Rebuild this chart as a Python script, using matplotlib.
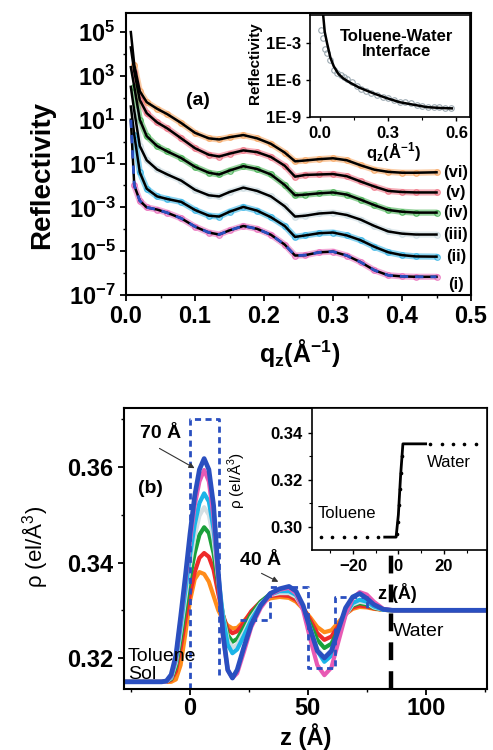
import matplotlib
matplotlib.use("Agg")
import matplotlib.pyplot as plt
import matplotlib.ticker as mticker
import numpy as np

plt.rcParams['font.family'] = ['Liberation Sans', 'DejaVu Sans']
plt.rcParams['mathtext.fontset'] = 'custom'
plt.rcParams['mathtext.rm'] = 'Liberation Sans'
plt.rcParams['mathtext.bf'] = 'Liberation Sans:bold'
plt.rcParams['axes.linewidth'] = 1.5

# ---------- panel (a): reflectivity, log10 values ----------
q = [0.007, 0.012, 0.02, 0.03, 0.045, 0.06, 0.08, 0.10, 0.12, 0.135, 0.15, 0.17, 0.19,
     0.21, 0.23, 0.245, 0.26, 0.28, 0.30, 0.32, 0.34, 0.36, 0.38, 0.40, 0.42, 0.45]
logR_vi = [5.0, 3.5, 2.3, 1.8, 1.5, 1.25, 0.85, 0.40, 0.15, 0.10, 0.20, 0.30, 0.15,
           -0.1, -0.5, -0.9, -0.86, -0.80, -0.76, -0.85, -1.08, -1.28, -1.38, -1.42, -1.42, -1.40]
logR_v = [4.3, 3.2, 1.9, 1.3, 0.88, 0.6, 0.15, -0.3, -0.6, -0.68, -0.55, -0.4, -0.48,
          -0.7, -1.1, -1.6, -1.52, -1.5, -1.48, -1.58, -1.82, -2.05, -2.25, -2.3, -2.32, -2.32]
logR_iv = [3.4, 2.5, 1.0, 0.25, -0.2, -0.45, -0.75, -1.15, -1.42, -1.5, -1.32, -1.12, -1.25,
           -1.5, -1.98, -2.45, -2.42, -2.36, -2.32, -2.42, -2.65, -2.9, -3.12, -3.2, -3.24, -3.24]
logR_iii = [2.5, 1.4, -0.2, -0.85, -1.27, -1.5, -1.78, -2.2, -2.45, -2.5, -2.3, -2.1, -2.25,
            -2.5, -2.95, -3.42, -3.38, -3.28, -3.24, -3.35, -3.56, -3.85, -4.1, -4.2, -4.24, -4.24]
logR_ii = [1.6, 0.3, -1.4, -2.15, -2.5, -2.62, -2.75, -3.12, -3.38, -3.42, -3.2, -2.98, -3.15,
           -3.45, -3.85, -4.35, -4.28, -4.18, -4.15, -4.28, -4.5, -4.8, -5.05, -5.18, -5.24, -5.25]
logR_i = [1.0, -2.0, -2.7, -3.0, -3.1, -3.25, -3.5, -3.88, -4.15, -4.24, -4.05, -3.85, -3.98,
          -4.25, -4.7, -5.2, -5.18, -5.05, -5.02, -5.2, -5.5, -5.87, -6.1, -6.15, -6.17, -6.17]
curve_labels = ['(vi)', '(v)', '(iv)', '(iii)', '(ii)', '(i)']
label_logR = [-1.41, -2.32, -3.24, -4.24, -5.25, -6.53]
data_colors = ['#f7a35c', '#ee6a7c', '#3cae4a', '#c9d9df', '#2ab0e4', '#e866b8']

# inset (a): bare toluene-water interface
iq_data = [0.005, 0.012, 0.02, 0.03, 0.045, 0.06, 0.075, 0.09, 0.105, 0.12, 0.14, 0.16, 0.18,
           0.2, 0.225, 0.25, 0.275, 0.3, 0.325, 0.35, 0.375, 0.4, 0.425, 0.45, 0.475, 0.5,
           0.525, 0.55, 0.575]
ilogR_data = [-1.95, -2.6, -3.5, -3.8, -4.4, -5.2, -5.4, -5.6, -5.75, -5.95, -6.2, -6.5, -6.75,
              -6.9, -7.05, -7.2, -7.35, -7.5, -7.6, -7.75, -7.82, -7.9, -8.0, -8.1, -8.15, -8.2,
              -8.22, -8.25, -8.3]
iq_fit = [0.013, 0.02, 0.03, 0.045, 0.06, 0.08, 0.10, 0.13, 0.17, 0.23, 0.29, 0.35, 0.41, 0.47, 0.53, 0.58]
ilogR_fit = [-0.73, -2.1, -3.0, -4.2, -4.9, -5.5, -5.85, -6.2, -6.6, -7.05, -7.45, -7.8, -8.0, -8.2, -8.27, -8.3]

# ---------- panel (b): electron density profiles ----------
z = [-28, -12, -10, -8, -6, -4, -2, 0, 2, 4, 6, 8, 10, 12, 14, 16, 18, 20, 23, 26, 30, 34, 38,
     42, 45, 48, 51, 54, 57, 60, 63, 66, 69, 72, 75, 78, 82, 86, 126]
rho_orange = [0.315, 0.315, 0.3150, 0.3150, 0.3155, 0.3185, 0.3250, 0.3320, 0.3365, 0.3380, 0.3376,
              0.3360, 0.3330, 0.3300, 0.3280, 0.3268, 0.3262, 0.3263, 0.3278, 0.3296, 0.3315, 0.3325,
              0.3328, 0.3326, 0.3318, 0.3303, 0.3285, 0.3265, 0.3254, 0.3258, 0.3275, 0.3292, 0.3303,
              0.3307, 0.3306, 0.3303, 0.3301, 0.3300, 0.3300]
rho_red = [0.315, 0.315, 0.3150, 0.3154, 0.3172, 0.3220, 0.3280, 0.3335, 0.3380, 0.3410, 0.3420,
           0.3412, 0.3385, 0.3335, 0.3290, 0.3260, 0.3252, 0.3256, 0.3275, 0.3298, 0.3318, 0.3330,
           0.3332, 0.3330, 0.3322, 0.3305, 0.3280, 0.3252, 0.3238, 0.3245, 0.3268, 0.3292, 0.3306,
           0.3310, 0.3308, 0.3304, 0.3301, 0.3300, 0.3300]
rho_green = [0.315, 0.315, 0.3151, 0.3156, 0.3182, 0.3240, 0.3305, 0.3368, 0.3420, 0.3458, 0.3474,
             0.3462, 0.3420, 0.3352, 0.3290, 0.3248, 0.3234, 0.3240, 0.3265, 0.3292, 0.3318, 0.3334,
             0.3338, 0.3336, 0.3328, 0.3305, 0.3272, 0.3238, 0.3221, 0.3230, 0.3260, 0.3292, 0.3310,
             0.3315, 0.3312, 0.3305, 0.3301, 0.3300, 0.3300]
rho_gray = [0.315, 0.315, 0.3151, 0.3158, 0.3190, 0.3255, 0.3325, 0.3395, 0.3455, 0.3498, 0.3516,
            0.3500, 0.3448, 0.3365, 0.3288, 0.3238, 0.3222, 0.3228, 0.3255, 0.3285, 0.3314, 0.3332,
            0.3336, 0.3336, 0.3328, 0.3303, 0.3262, 0.3220, 0.3200, 0.3212, 0.3250, 0.3290, 0.3312,
            0.3318, 0.3315, 0.3306, 0.3301, 0.3300, 0.3300]
rho_cyan = [0.315, 0.315, 0.3151, 0.3160, 0.3195, 0.3265, 0.3340, 0.3415, 0.3480, 0.3525, 0.3545,
            0.3528, 0.3470, 0.3375, 0.3285, 0.3228, 0.3210, 0.3218, 0.3248, 0.3280, 0.3312, 0.3333,
            0.3340, 0.3340, 0.3332, 0.3305, 0.3262, 0.3215, 0.3192, 0.3205, 0.3248, 0.3292, 0.3315,
            0.3322, 0.3318, 0.3308, 0.3301, 0.3300, 0.3300]
rho_pink = [0.315, 0.315, 0.3151, 0.3162, 0.3200, 0.3278, 0.3360, 0.3445, 0.3520, 0.3570, 0.3594,
            0.3570, 0.3495, 0.3365, 0.3245, 0.3175, 0.3158, 0.3168, 0.3215, 0.3265, 0.3305, 0.3332,
            0.3343, 0.3347, 0.3335, 0.3300, 0.3240, 0.3185, 0.3164, 0.3180, 0.3235, 0.3290, 0.3325,
            0.3338, 0.3333, 0.3318, 0.3303, 0.3300, 0.3300]
rho_blue = [0.315, 0.315, 0.3152, 0.3165, 0.3205, 0.3285, 0.3370, 0.3460, 0.3540, 0.3595, 0.3618,
            0.3595, 0.3520, 0.3380, 0.3250, 0.3175, 0.3158, 0.3175, 0.3225, 0.3270, 0.3310, 0.3335,
            0.3345, 0.3350, 0.3340, 0.3310, 0.3260, 0.3215, 0.3200, 0.3215, 0.3260, 0.3305, 0.3328,
            0.3335, 0.3325, 0.3312, 0.3302, 0.3300, 0.3300]
rho_sets = [rho_orange, rho_red, rho_green, rho_gray, rho_cyan, rho_pink, rho_blue]
rho_colors = ['#ff8c1a', '#ee2a2a', '#1aa03a', '#d3dfe3', '#1ab4e8', '#e85ab4', '#2a4fc0']

# dashed guide boxes (z, rho)
box_a = [(0, 0.3135), (0, 0.370), (12.5, 0.370), (12.5, 0.316)]
box_b = [(21, 0.328), (34, 0.328), (34, 0.3349), (50, 0.3349), (50, 0.318), (61.5, 0.318),
         (61.5, 0.3328), (75, 0.3328), (75, 0.330)]
z_interface = 85.4

# inset (b): bare toluene-water density step
iz_line = [-6, -1, 0, 1, 2, 12]
irho_line = [0.2955, 0.2955, 0.305, 0.322, 0.3353, 0.3353]
iz_dots = [-34, -29, -24, -19, -14, -9, -0.6, -0.2, 0.2, 0.6, 1.0, 1.4, 14, 19, 24, 29, 34]
irho_dots = [0.2955] * 6 + [0.297, 0.302, 0.309, 0.316, 0.323, 0.330] + [0.3353] * 5

fig = plt.figure(figsize=(4.93, 7.5), dpi=100)

# ================= panel (a) =================
ax1 = fig.add_axes([126 / 493, 1 - 295 / 750, 345 / 493, 282 / 750])
logsets = [logR_vi, logR_v, logR_iv, logR_iii, logR_ii, logR_i]
for vals, c in zip(logsets, data_colors):
    r = 10.0 ** np.array(vals)
    ax1.plot(q[1:], r[1:], '-', color=c, lw=4.5, alpha=0.55, solid_capstyle='round')
    ax1.plot(q[1:], r[1:], 'o', mfc='none', mec=c, ms=4, mew=0.9, alpha=0.8)
for vals in logsets:
    ax1.plot(q, 10.0 ** np.array(vals), '-', color='black', lw=1.8)
ax1.plot(q, 10.0 ** np.array(logR_i), '--', color='#2a4fc0', lw=2, dashes=(3, 2.5))
for lab, ly in zip(curve_labels, label_logR):
    ax1.text(0.478, 10.0 ** ly, lab, fontsize=12, fontweight='bold', ha='center', va='center')
ax1.text(0.209, 0.691, '(a)', transform=ax1.transAxes, fontsize=14, fontweight='bold',
         ha='center', va='center')

ax1.set_yscale('log')
ax1.set_xlim(0, 0.5)
ax1.set_ylim(1e-7, 10 ** 5.87)
ax1.set_yticks([10.0 ** e for e in range(-7, 6, 2)])
ax1.yaxis.set_major_formatter(mticker.FuncFormatter(lambda v, p: r'$\mathbf{10^{%d}}$' % round(np.log10(v))))
ax1.yaxis.set_minor_locator(mticker.FixedLocator([10.0 ** e for e in range(-7, 6)]))
ax1.yaxis.set_minor_formatter(mticker.NullFormatter())
ax1.set_xticks([0.0, 0.1, 0.2, 0.3, 0.4, 0.5])
ax1.xaxis.set_major_formatter(mticker.FormatStrFormatter('%.1f'))
ax1.xaxis.set_minor_locator(mticker.MultipleLocator(0.05))
ax1.tick_params(which='major', length=4, width=1.3, labelsize=17)
ax1.tick_params(which='minor', length=2.5, width=1.0)
for t in ax1.get_xticklabels() + ax1.get_yticklabels():
    t.set_fontweight('bold')
ax1.set_ylabel('Reflectivity', fontsize=20, fontweight='bold')
ax1.yaxis.set_label_coords(-0.206, 0.426)
ax1.set_xlabel(r'q$_\mathbf{z}$(Å$^{\mathbf{-1}}$)', fontsize=18, fontweight='bold')
ax1.xaxis.set_label_coords(0.504, -0.149)

# inset (a)
ins1 = fig.add_axes([310 / 493, 1 - 117 / 750, 160 / 493, 102 / 750])
ins1.plot(iq_data, 10.0 ** np.array(ilogR_data), 'o', mfc='none', mec='#9aa8b0', ms=4, mew=0.8)
ins1.plot(iq_fit, 10.0 ** np.array(ilogR_fit), '-', color='black', lw=1.8)
ins1.set_yscale('log')
ins1.set_xlim(-0.045, 0.66)
ins1.set_ylim(1e-9, 10 ** -0.73)
ins1.set_yticks([1e-9, 1e-6, 1e-3])
ins1.set_yticklabels(['1E-9', '1E-6', '1E-3'])
ins1.yaxis.set_minor_locator(mticker.NullLocator())
ins1.set_xticks([0.0, 0.3, 0.6])
ins1.set_xticklabels(['0.0', '0.3', '0.6'])
ins1.xaxis.set_minor_locator(mticker.FixedLocator([0.15, 0.45]))
ins1.tick_params(which='major', length=3, width=1.0, labelsize=12)
ins1.tick_params(which='minor', length=2, width=0.8)
for t in ins1.get_xticklabels() + ins1.get_yticklabels():
    t.set_fontweight('bold')
for s in ins1.spines.values():
    s.set_linewidth(1.2)
ins1.set_ylabel('Reflectivity', fontsize=11, fontweight='bold')
ins1.yaxis.set_label_coords(-0.30, 0.53)
ins1.set_xlabel(r'q$_\mathbf{z}$(Å$^{\mathbf{-1}}$)', fontsize=12, fontweight='bold')
ins1.xaxis.set_label_coords(0.52, -0.225)
ins1.text(0.544, 0.716, 'Toluene-Water\nInterface', transform=ins1.transAxes, fontsize=12,
          fontweight='bold', ha='center', va='center', linespacing=1.0)

# ================= panel (b) =================
ax2 = fig.add_axes([124 / 493, 1 - 689 / 750, 363 / 493, 281 / 750])
for vals, c in zip(rho_sets, rho_colors):
    ax2.plot(z, vals, '-', color=c, lw=3 if c != '#2a4fc0' else 3.4, solid_capstyle='round')
bx, by = zip(*box_a)
ax2.plot(bx, by, '--', color='#2a4fc0', lw=2, dashes=(2.2, 1.6))
bx, by = zip(*box_b)
ax2.plot(bx, by, '--', color='#2a4fc0', lw=2, dashes=(2.2, 1.6))
ax2.plot([z_interface, z_interface], [0.3135, 0.3426], '--', color='black', lw=3.2, dashes=(4, 2.5))

ax2.set_xlim(-28, 126)
ax2.set_ylim(0.3135, 0.3724)
ax2.set_xticks([0, 50, 100])
ax2.xaxis.set_minor_locator(mticker.FixedLocator([-25, 25, 75, 125]))
ax2.set_yticks([0.32, 0.34, 0.36])
ax2.yaxis.set_major_formatter(mticker.FormatStrFormatter('%.2f'))
ax2.yaxis.set_minor_locator(mticker.FixedLocator([0.33, 0.35, 0.37]))
ax2.tick_params(which='major', length=4, width=1.3, labelsize=17)
ax2.tick_params(axis='x', which='major', pad=2)
ax2.tick_params(which='minor', length=2.5, width=1.0)
for t in ax2.get_xticklabels() + ax2.get_yticklabels():
    t.set_fontweight('bold')
ax2.set_ylabel(r'ρ (el/Å$^3$)', fontsize=16)
ax2.yaxis.set_label_coords(-0.204, 0.505)
ax2.set_xlabel('z (Å)', fontsize=17, fontweight='bold')
ax2.xaxis.set_label_coords(0.501, -0.122)

ax2.text(0.102, 0.911, '70 Å', transform=ax2.transAxes, fontsize=14, fontweight='bold',
         ha='center', va='center')
ax2.text(0.0716, 0.714, '(b)', transform=ax2.transAxes, fontsize=14, fontweight='bold',
         ha='center', va='center')
ax2.text(0.375, 0.459, '40 Å', transform=ax2.transAxes, fontsize=14, fontweight='bold',
         ha='center', va='center')
ax2.text(0.011, 0.021, 'Toluene\nSol', transform=ax2.transAxes, fontsize=14,
         ha='left', va='bottom', linespacing=1.1)
ax2.text(0.741, 0.206, 'Water', transform=ax2.transAxes, fontsize=14, ha='left', va='center')
arrow = dict(arrowstyle='-|>', color='#333333', lw=0.8, mutation_scale=8)
ax2.annotate('', xy=(0.201, 0.781), xycoords='axes fraction', xytext=(0.091, 0.861),
             textcoords='axes fraction', arrowprops=arrow)
ax2.annotate('', xy=(0.432, 0.377), xycoords='axes fraction', xytext=(0.372, 0.416),
             textcoords='axes fraction', arrowprops=arrow)

# inset (b)
ins2 = fig.add_axes([312 / 493, 1 - 550 / 750, 175 / 493, 142 / 750])
ins2.plot(iz_dots, irho_dots, 'o', color='black', ms=1.6)
ins2.plot(iz_line, irho_line, '-', color='black', lw=2)
ins2.set_xlim(-38, 39)
ins2.set_ylim(0.290, 0.3506)
ins2.set_xticks([-20, 0, 20])
ins2.xaxis.set_minor_locator(mticker.FixedLocator([-30, -10, 10, 30]))
ins2.set_yticks([0.30, 0.32, 0.34])
ins2.yaxis.set_major_formatter(mticker.FormatStrFormatter('%.2f'))
ins2.yaxis.set_minor_locator(mticker.FixedLocator([0.31, 0.33]))
ins2.tick_params(which='major', length=3, width=1.0, labelsize=12)
ins2.tick_params(which='minor', length=2, width=0.8)
for t in ins2.get_xticklabels() + ins2.get_yticklabels():
    t.set_fontweight('bold')
for s in ins2.spines.values():
    s.set_linewidth(1.2)
ins2.set_ylabel(r'ρ (el/Å$^3$)', fontsize=11)
ins2.yaxis.set_label_coords(-0.366, 0.49)
ins2.set_xlabel('z (Å)', fontsize=13, fontweight='bold')
ins2.xaxis.set_label_coords(0.486, -0.232)
ins2.text(0.034, 0.26, 'Toluene', transform=ins2.transAxes, fontsize=12, ha='left', va='center')
ins2.text(0.657, 0.613, 'Water', transform=ins2.transAxes, fontsize=12, ha='left', va='center')

fig.savefig('out.png', dpi=100)
